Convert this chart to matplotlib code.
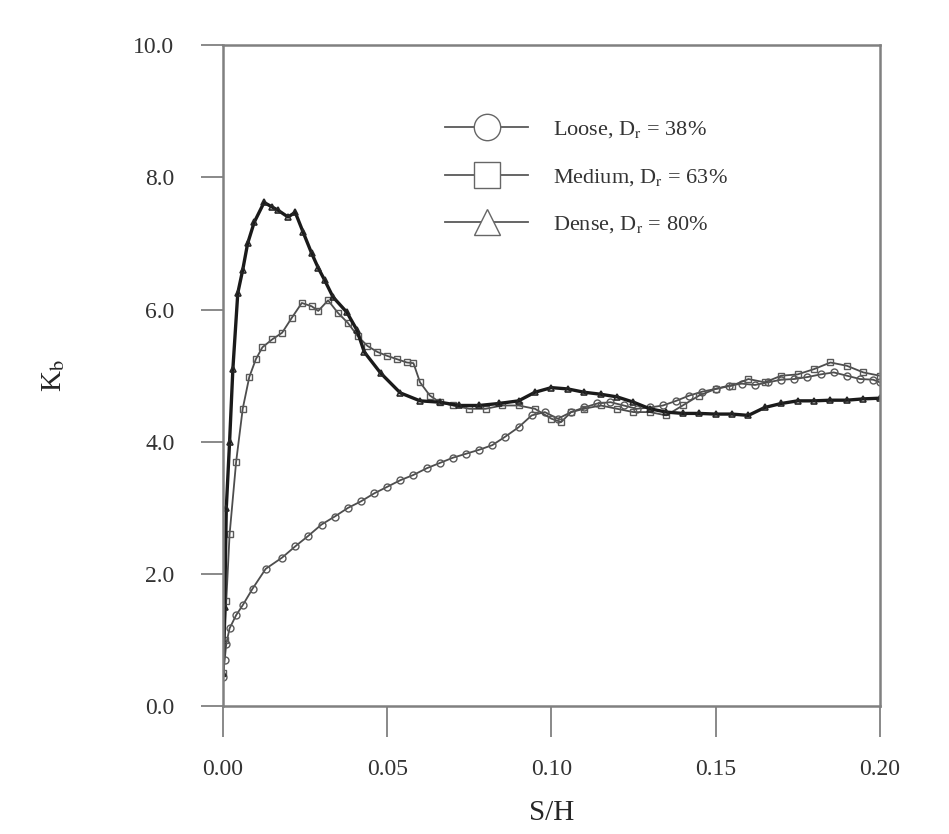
import numpy as np
import matplotlib
matplotlib.use("Agg")
import matplotlib.pyplot as plt
from matplotlib.lines import Line2D

plt.rcParams['font.family'] = ['Liberation Serif', 'DejaVu Serif']
plt.rcParams['mathtext.fontset'] = 'stix'

# Loose, Dr = 38%
sh_loose = [0.000, 0.0005, 0.001, 0.002, 0.004, 0.006, 0.009, 0.013, 0.018, 0.022,
            0.026, 0.030, 0.034, 0.038, 0.042, 0.046, 0.050, 0.054, 0.058, 0.062,
            0.066, 0.070, 0.074, 0.078, 0.082, 0.086, 0.090, 0.094, 0.098, 0.102,
            0.106, 0.110, 0.114, 0.118, 0.122, 0.126, 0.130, 0.134, 0.138, 0.142,
            0.146, 0.150, 0.154, 0.158, 0.162, 0.166, 0.170, 0.174, 0.178, 0.182,
            0.186, 0.190, 0.194, 0.198, 0.200]
k_loose = [0.45, 0.70, 0.95, 1.18, 1.38, 1.53, 1.78, 2.08, 2.25, 2.42,
           2.58, 2.75, 2.87, 3.00, 3.10, 3.22, 3.32, 3.42, 3.50, 3.60,
           3.68, 3.76, 3.82, 3.88, 3.95, 4.08, 4.22, 4.40, 4.45, 4.35,
           4.45, 4.52, 4.58, 4.60, 4.55, 4.50, 4.52, 4.55, 4.62, 4.70,
           4.76, 4.80, 4.85, 4.88, 4.86, 4.90, 4.94, 4.95, 4.98, 5.02,
           5.05, 5.00, 4.95, 4.94, 4.90]

# Medium, Dr = 63%
sh_medium = [0.000, 0.0005, 0.001, 0.002, 0.004, 0.006, 0.008, 0.010, 0.012, 0.015,
             0.018, 0.021, 0.024, 0.027, 0.029, 0.032, 0.035, 0.038, 0.041, 0.044,
             0.047, 0.050, 0.053, 0.056, 0.058, 0.060, 0.063, 0.066, 0.070, 0.075,
             0.080, 0.085, 0.090, 0.095, 0.100, 0.103, 0.106, 0.110, 0.115, 0.120,
             0.125, 0.130, 0.135, 0.140, 0.145, 0.150, 0.155, 0.160, 0.165, 0.170,
             0.175, 0.180, 0.185, 0.190, 0.195, 0.200]
k_medium = [0.50, 1.00, 1.60, 2.60, 3.70, 4.50, 4.98, 5.25, 5.43, 5.55,
            5.65, 5.88, 6.10, 6.05, 5.98, 6.14, 5.95, 5.80, 5.60, 5.45,
            5.36, 5.30, 5.25, 5.20, 5.19, 4.90, 4.70, 4.60, 4.55, 4.50,
            4.50, 4.55, 4.55, 4.50, 4.35, 4.30, 4.45, 4.50, 4.55, 4.50,
            4.45, 4.45, 4.40, 4.55, 4.70, 4.80, 4.85, 4.95, 4.90, 5.00,
            5.02, 5.10, 5.20, 5.15, 5.05, 5.00]

# Dense, Dr = 80%
sh_dense = [0.000, 0.0005, 0.001, 0.002, 0.003, 0.0045, 0.006, 0.0075, 0.0095, 0.0125,
            0.015, 0.0168, 0.0198, 0.022, 0.0244, 0.027, 0.029, 0.031, 0.0335, 0.0377,
            0.0408, 0.043, 0.048, 0.054, 0.060, 0.066, 0.072, 0.078, 0.084, 0.090,
            0.095, 0.100, 0.105, 0.110, 0.115, 0.120, 0.125, 0.130, 0.135, 0.140,
            0.145, 0.150, 0.155, 0.160, 0.165, 0.170, 0.175, 0.180, 0.185, 0.190,
            0.195, 0.200]
k_dense = [0.50, 1.50, 3.00, 4.00, 5.10, 6.25, 6.60, 7.00, 7.32, 7.62,
           7.55, 7.50, 7.40, 7.47, 7.17, 6.85, 6.63, 6.44, 6.19, 5.96,
           5.69, 5.36, 5.04, 4.74, 4.62, 4.60, 4.55, 4.55, 4.58, 4.62,
           4.75, 4.82, 4.80, 4.75, 4.72, 4.68, 4.60, 4.50, 4.45, 4.43,
           4.43, 4.42, 4.42, 4.40, 4.52, 4.58, 4.62, 4.62, 4.63, 4.63,
           4.65, 4.66]

fig = plt.figure(figsize=(9.49, 8.34), dpi=100)
ax = fig.add_axes([0.235, 0.153, 0.692, 0.793])

ax.plot(sh_loose, k_loose, color='0.3', lw=1.3, marker='o', ms=5,
        mfc='none', mec='0.35', mew=1.0)
ax.plot(sh_medium, k_medium, color='0.3', lw=1.3, marker='s', ms=5,
        mfc='none', mec='0.35', mew=1.0)
ax.plot(sh_dense, k_dense, color='0.1', lw=2.4, marker='^', ms=5,
        mfc='none', mec='0.15', mew=1.2)

ax.set_xlim(0, 0.20)
ax.set_ylim(0, 10)
ax.set_xticks([0.00, 0.05, 0.10, 0.15, 0.20])
ax.set_xticklabels(['0.00', '0.05', '0.10', '0.15', '0.20'])
ax.set_yticks([0, 2, 4, 6, 8, 10])
ax.set_yticklabels(['0.0', '2.0', '4.0', '6.0', '8.0', '10.0'])
ax.tick_params(axis='y', direction='out', length=16, width=1.3, pad=19,
               labelsize=17, color='0.5', labelcolor='0.2')
ax.tick_params(axis='x', direction='out', length=22, width=1.3, pad=16,
               labelsize=17, color='0.5', labelcolor='0.2')
for s in ax.spines.values():
    s.set_color('0.5')
    s.set_linewidth(1.8)

ax.set_xlabel('S/H', fontsize=21, labelpad=14, color='0.15')
ax.set_ylabel(r'K$_{\rm b}$', fontsize=21, labelpad=48, color='0.15')

handles = [
    Line2D([], [], color='0.35', lw=1.3, marker='o', ms=19, mfc='white', mec='0.4'),
    Line2D([], [], color='0.35', lw=1.3, marker='s', ms=19, mfc='white', mec='0.4'),
    Line2D([], [], color='0.35', lw=1.3, marker='^', ms=19, mfc='white', mec='0.4'),
]
labels = [r'Loose, D$_{\rm r}$ = 38%', r'Medium, D$_{\rm r}$ = 63%',
          r'Dense, D$_{\rm r}$ = 80%']
ax.legend(handles, labels, loc='upper left', bbox_to_anchor=(0.338, 0.888),
          frameon=False, fontsize=16, handlelength=3.75, handletextpad=1.1,
          labelspacing=1.2, borderpad=0, borderaxespad=0, labelcolor='0.2')

fig.savefig('out.png', dpi=100, facecolor='white')
